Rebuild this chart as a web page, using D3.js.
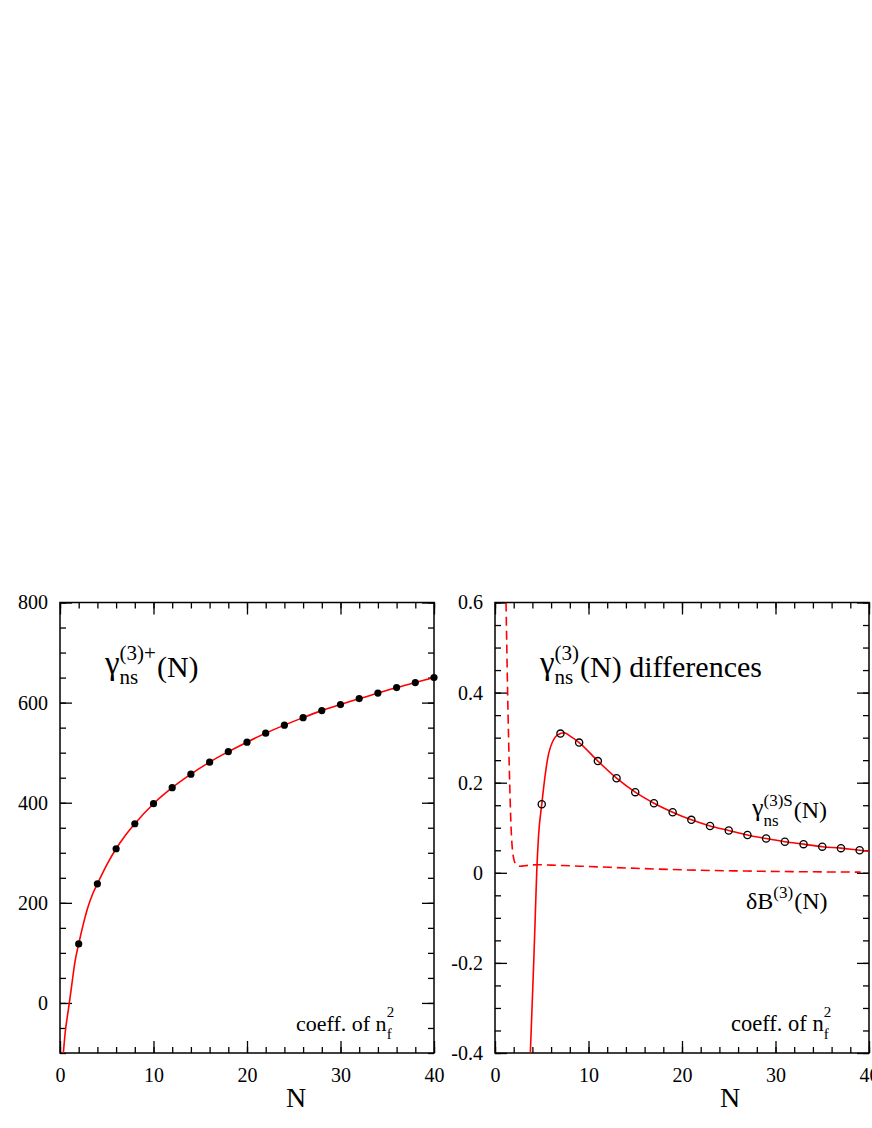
<!DOCTYPE html>
<html><head><meta charset="utf-8">
<script src="https://cdn.jsdelivr.net/npm/d3@7"></script>
<style>body{margin:0;background:#fff}svg{display:block}svg text{font-family:"Liberation Serif","Times New Roman",Times,"DejaVu Serif",serif;fill:#000}</style>
</head><body>
<svg id="c" width="872" height="1128" font-family="Liberation Serif, Times New Roman, serif"></svg>
<script>
// ---------- data ----------
const xTickValues = [0, 10, 20, 30, 40];
const xTickLabels = ["0", "10", "20", "30", "40"];

const leftYTickValues = [0, 200, 400, 600, 800];
const leftYTickLabels = ["0", "200", "400", "600", "800"];
const rightYTickValues = [-0.4, -0.2, 0, 0.2, 0.4, 0.6];
const rightYTickLabels = ["-0.4", "-0.2", "0", "0.2", "0.4", "0.6"];

const leftMarkerN = [2, 4, 6, 8, 10, 12, 14, 16, 18, 20, 22, 24, 26, 28, 30, 32, 34, 36, 38, 40];
const leftMarkerV = [118, 238, 308, 358, 398, 430, 457, 481, 502, 521, 539, 555, 570, 584, 596, 608, 619, 630, 640, 650];

const leftCurveN = [0.36, 0.55, 0.8, 1.0, 1.3, 1.6, 2, 2.5, 3, 3.5, 4, 5, 6, 7, 8, 10, 12, 14, 16, 18, 20, 22, 24, 26, 28, 30, 32, 34, 36, 38, 40];
const leftCurveV = [-100, -60, -25, 0, 42, 82, 118, 158, 192, 218, 238, 276, 308, 335, 358, 398, 430, 457, 481, 502, 521, 539, 555, 570, 584, 596, 608, 619, 630, 640, 650];

const rightMarkerN = [5, 7, 9, 11, 13, 15, 17, 19, 21, 23, 25, 27, 29, 31, 33, 35, 37, 39];
const rightMarkerV = [0.152, 0.309, 0.289, 0.248, 0.210, 0.179, 0.1545, 0.1345, 0.1175, 0.104, 0.094, 0.084, 0.076, 0.069, 0.0636, 0.058, 0.0547, 0.050];

const rightSolidN = [3.78, 4.14, 4.3, 4.46, 4.65, 5, 5.6, 6.4, 7, 7.4, 8, 9, 11, 13, 15, 17, 19, 21, 23, 25, 27, 29, 31, 33, 35, 37, 39, 40];
const rightSolidV = [-0.4, -0.2, -0.1, 0, 0.08, 0.152, 0.25, 0.3, 0.309, 0.311, 0.304, 0.289, 0.248, 0.210, 0.179, 0.1545, 0.1345, 0.1175, 0.104, 0.094, 0.084, 0.076, 0.069, 0.0636, 0.058, 0.0547, 0.050, 0.048];

const rightDashedN = [1.18, 1.35, 1.57, 1.72, 1.9, 2.2, 2.67, 3.5, 4.5, 6, 8, 10, 15, 20, 25, 30, 35, 39.1];
const rightDashedV = [0.6, 0.4, 0.2, 0.1, 0.045, 0.02, 0.0145, 0.0165, 0.018, 0.017, 0.0155, 0.014, 0.01, 0.0066, 0.0045, 0.003, 0.002, 0.0015];

// ---------- drawing ----------
const svg = d3.select("#c");
const RED = "#ff0000";
const SERIF = "'Liberation Serif','Times New Roman',Times,'DejaVu Serif',serif";

function panel(cfg) {
  const {x0, x1, y0, y1, yDomain, yTicks, yLabels, yMinorStep, id} = cfg;
  const x = d3.scaleLinear().domain([0, 40]).range([x0, x1]);
  const y = d3.scaleLinear().domain(yDomain).range([y1, y0]);
  const g = svg.append("g");
  g.append("clipPath").attr("id", id).append("rect")
    .attr("x", x0).attr("y", y0).attr("width", x1 - x0).attr("height", y1 - y0);

  const xMinor = d3.range(0, 40.001, 2);
  const yMinor = d3.range(yDomain[0], yDomain[1] + 1e-9, yMinorStep).map(v => +v.toFixed(6));
  const ML = 12, mL = 6;

  function styleAxis(sel) {
    sel.attr("font-family", null).attr("font-size", null);
    sel.select(".domain").remove();
    sel.selectAll("line").attr("stroke", "#000").attr("stroke-width", 1.3);
    sel.selectAll("text").style("font-size", "20px").style("font-family", SERIF);
  }
  g.append("g").attr("transform", `translate(0,${y1})`)
    .call(d3.axisBottom(x).tickValues(xMinor).tickSize(-mL).tickFormat("")).call(styleAxis);
  g.append("g").attr("transform", `translate(0,${y1})`)
    .call(d3.axisBottom(x).tickValues(xTickValues).tickSize(-ML).tickPadding(15)
      .tickFormat((d, i) => xTickLabels[i])).call(styleAxis);
  g.append("g").attr("transform", `translate(0,${y0})`)
    .call(d3.axisTop(x).tickValues(xMinor).tickSize(-mL).tickFormat("")).call(styleAxis);
  g.append("g").attr("transform", `translate(0,${y0})`)
    .call(d3.axisTop(x).tickValues(xTickValues).tickSize(-ML).tickFormat("")).call(styleAxis);
  g.append("g").attr("transform", `translate(${x0},0)`)
    .call(d3.axisLeft(y).tickValues(yMinor).tickSize(-mL).tickFormat("")).call(styleAxis);
  g.append("g").attr("transform", `translate(${x0},0)`)
    .call(d3.axisLeft(y).tickValues(yTicks).tickSize(-ML).tickPadding(12)
      .tickFormat((d, i) => yLabels[i])).call(styleAxis);
  g.append("g").attr("transform", `translate(${x1},0)`)
    .call(d3.axisRight(y).tickValues(yMinor).tickSize(-mL).tickFormat("")).call(styleAxis);
  g.append("g").attr("transform", `translate(${x1},0)`)
    .call(d3.axisRight(y).tickValues(yTicks).tickSize(-ML).tickFormat("")).call(styleAxis);

  g.append("rect").attr("x", x0).attr("y", y0).attr("width", x1 - x0).attr("height", y1 - y0)
    .attr("fill", "none").attr("stroke", "#000").attr("stroke-width", 1.5);
  return {g, x, y, clip: `url(#${id})`};
}

const L = panel({x0: 60, x1: 434, y0: 602.5, y1: 1053, yDomain: [-100, 800],
  yTicks: leftYTickValues, yLabels: leftYTickLabels, yMinorStep: 50, id: "clipL"});
const R = panel({x0: 495, x1: 869, y0: 602.5, y1: 1053, yDomain: [-0.4, 0.6],
  yTicks: rightYTickValues, yLabels: rightYTickLabels, yMinorStep: 0.05, id: "clipR"});

const line = (p) => d3.line().x(d => p.x(d[0])).y(d => p.y(d[1])).curve(d3.curveMonotoneX);

L.g.append("path").datum(d3.zip(leftCurveN, leftCurveV)).attr("clip-path", L.clip)
  .attr("d", line(L)).attr("fill", "none").attr("stroke", RED).attr("stroke-width", 1.6);
L.g.selectAll("circle.m").data(d3.zip(leftMarkerN, leftMarkerV)).join("circle")
  .attr("cx", d => L.x(d[0])).attr("cy", d => L.y(d[1])).attr("r", 3.6).attr("fill", "#000");

R.g.append("path").datum(d3.zip(rightDashedN, rightDashedV)).attr("clip-path", R.clip)
  .attr("d", line(R)).attr("fill", "none").attr("stroke", RED).attr("stroke-width", 1.6)
  .attr("stroke-dasharray", "9,5");
R.g.append("path").datum(d3.zip(rightSolidN, rightSolidV)).attr("clip-path", R.clip)
  .attr("d", line(R)).attr("fill", "none").attr("stroke", RED).attr("stroke-width", 1.6);
R.g.selectAll("circle.m").data(d3.zip(rightMarkerN, rightMarkerV)).join("circle")
  .attr("cx", d => R.x(d[0])).attr("cy", d => R.y(d[1])).attr("r", 3.6)
  .attr("fill", "none").attr("stroke", "#000").attr("stroke-width", 1.3);

// ---------- rich labels ----------
function txt(s, x, y, size) {
  const t = svg.append("text").attr("x", x).attr("y", y)
    .style("font-size", size + "px").style("font-family", SERIF).text(s);
  return t.node().getComputedTextLength();
}
function rich(o) {
  let cx = o.x;
  cx += txt(o.main, cx, o.mainBase || o.base, o.mainSize || o.size);
  const ws = o.sub ? txt(o.sub, cx, o.subBase, o.small) : 0;
  const wp = o.sup ? txt(o.sup, cx, o.supBase, o.small) : 0;
  cx += Math.max(ws, wp) + 1;
  if (o.rest) txt(o.rest, cx, o.base, o.size);
}

rich({x: 105, base: 677, size: 30, main: "γ", mainSize: 33, mainBase: 674, sub: "ns", sup: "(3)+", subBase: 684, supBase: 660, small: 21, rest: "(N)"});
rich({x: 540, base: 677, size: 30, main: "γ", mainSize: 33, mainBase: 674, sub: "ns", sup: "(3)", subBase: 684, supBase: 660, small: 21, rest: "(N) differences"});
rich({x: 752, base: 818, size: 24, main: "γ", mainSize: 26, mainBase: 816, sub: "ns", sup: "(3)S", subBase: 826, supBase: 806, small: 17, rest: "(N)"});
rich({x: 746, base: 909, size: 24, main: "δB", sup: "(3)", supBase: 898, small: 17, rest: "(N)"});
rich({x: 296, base: 1031, size: 22, main: "coeff. of n", sub: "f", sup: "2", subBase: 1039, supBase: 1017, small: 15});
rich({x: 731, base: 1031, size: 22.5, main: "coeff. of n", sub: "f", sup: "2", subBase: 1039, supBase: 1017, small: 15});

svg.append("text").attr("x", 296).attr("y", 1107).attr("text-anchor", "middle")
  .style("font-size", "28px").style("font-family", SERIF).text("N");
svg.append("text").attr("x", 730).attr("y", 1107).attr("text-anchor", "middle")
  .style("font-size", "28px").style("font-family", SERIF).text("N");
</script>
</body></html>
